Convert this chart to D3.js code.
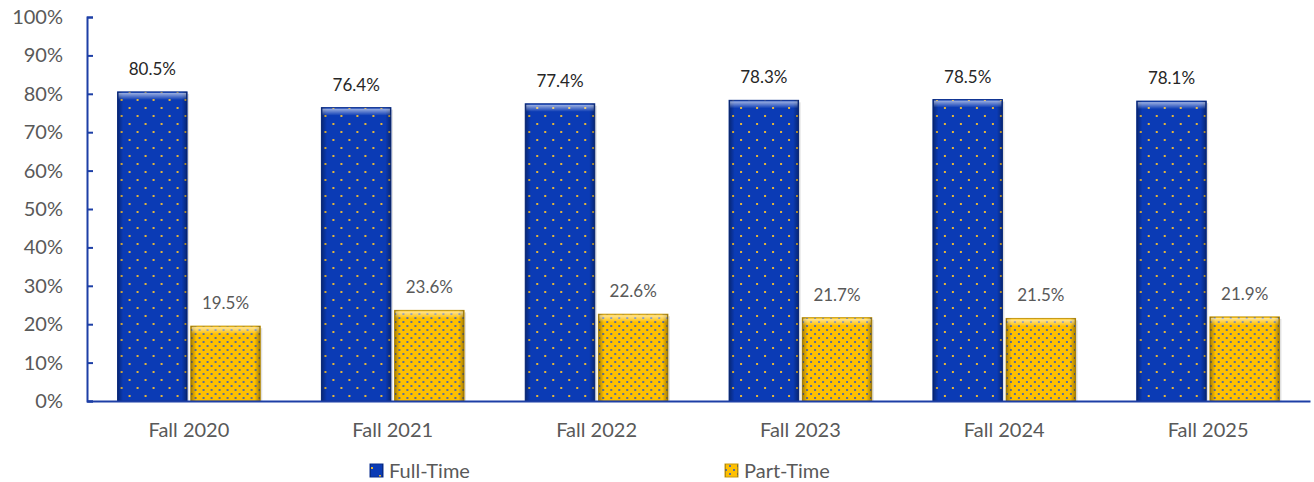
<!DOCTYPE html>
<html>
<head>
<meta charset="utf-8">
<script src="https://cdn.jsdelivr.net/npm/d3@7"></script>
<style>
  body { margin: 0; background: #fff; }
  svg { display: block; font-family: Lato, "Open Sans", sans-serif; }
  .axis text { fill: #595959; font-size: 20px; font-family: Lato, "Open Sans", sans-serif; }
  .legend text { fill: #595959; font-size: 20px; }
</style>
</head>
<body>
<div id="chart"></div>
<script>

var categories = ['Fall 2020', 'Fall 2021', 'Fall 2022', 'Fall 2023', 'Fall 2024', 'Fall 2025']
var seriesNames = ['Full-Time', 'Part-Time']
var fullTime = [80.5, 76.4, 77.4, 78.3, 78.5, 78.1]
var partTime = [19.5, 23.6, 22.6, 21.7, 21.5, 21.9]
var yTicks = [0, 10, 20, 30, 40, 50, 60, 70, 80, 90, 100]

var axisColor = '#1d3fa6'
var labelColors = ['#262626', '#595959']

var width = 1314, height = 482
var margin = {left: 87, right: 4, top: 17, bottom: 81}

var svg = d3.select('#chart').append('svg')
  .attr('width', width)
  .attr('height', height)

var defs = svg.append('defs')

// dotted fills
var pBlue = defs.append('pattern')
  .attr('id', 'dotsBlue')
  .attr('patternUnits', 'userSpaceOnUse')
  .attr('width', 16).attr('height', 16)
pBlue.append('rect').attr('width', 16).attr('height', 16).attr('fill', '#0b3bb5')
pBlue.append('rect').attr('x', 3).attr('y', 3).attr('width', 2).attr('height', 2).attr('fill', '#e3b43a')
pBlue.append('rect').attr('x', 11).attr('y', 11).attr('width', 2).attr('height', 2).attr('fill', '#e3b43a')

var pYellow = defs.append('pattern')
  .attr('id', 'dotsYellow')
  .attr('patternUnits', 'userSpaceOnUse')
  .attr('width', 8).attr('height', 8)
pYellow.append('rect').attr('width', 8).attr('height', 8).attr('fill', '#ffc000')
pYellow.append('rect').attr('x', 1).attr('y', 1).attr('width', 2).attr('height', 2).attr('fill', '#5b6f98')
pYellow.append('rect').attr('x', 5).attr('y', 5).attr('width', 2).attr('height', 2).attr('fill', '#5b6f98')

// bevel overlays
var sideGrad = defs.append('linearGradient').attr('id', 'sideShade')
sideGrad.append('stop').attr('offset', '0%').attr('stop-color', '#000').attr('stop-opacity', 0.35)
sideGrad.append('stop').attr('offset', '8%').attr('stop-color', '#000').attr('stop-opacity', 0)
sideGrad.append('stop').attr('offset', '92%').attr('stop-color', '#000').attr('stop-opacity', 0)
sideGrad.append('stop').attr('offset', '100%').attr('stop-color', '#000').attr('stop-opacity', 0.35)

var topGrad = defs.append('linearGradient').attr('id', 'topShine')
  .attr('x1', 0).attr('y1', 0).attr('x2', 0).attr('y2', 1)
topGrad.append('stop').attr('offset', '0%').attr('stop-color', '#fff').attr('stop-opacity', 0.6)
topGrad.append('stop').attr('offset', '100%').attr('stop-color', '#fff').attr('stop-opacity', 0)

var fills = ['url(#dotsBlue)', 'url(#dotsYellow)']
var edgeColors = ['#0a2f8f', '#c79a10']

var xScale = d3.scaleBand()
  .domain(categories)
  .range([margin.left, width - margin.right])
  .paddingInner(0.3)
  .paddingOuter(0.15)

var x1 = d3.scaleBand()
  .domain(seriesNames)
  .range([0, xScale.bandwidth()])
  .paddingInner(0.05)

var yScale = d3.scaleLinear()
  .domain([0, 100])
  .range([height - margin.bottom, margin.top])

var data = categories.map(function(c, i) {
  return {cat: c, values: [fullTime[i], partTime[i]]}
})

// y axis
var yAxis = d3.axisLeft(yScale)
  .tickValues(yTicks)
  .tickFormat(function(d) { return d + '%' })
  .tickSize(-6)
  .tickPadding(24)

var gy = svg.append('g')
  .attr('class', 'y axis')
  .attr('transform', 'translate(' + margin.left + ',0)')
  .call(yAxis)
  .attr('font-family', null)
  .attr('font-size', null)
gy.select('.domain').attr('stroke', axisColor).attr('stroke-width', 2)
gy.selectAll('.tick line').attr('stroke', axisColor).attr('stroke-width', 2)

// bars
var groups = svg.selectAll('.group')
  .data(data)
  .enter().append('g')
  .attr('class', 'group')
  .attr('transform', function(d) { return 'translate(' + xScale(d.cat) + ',0)' })

seriesNames.forEach(function(s, si) {
  var bx = x1(s), bw = x1.bandwidth()

  // soft shadow
  groups.append('rect')
    .attr('x', bx + 2)
    .attr('y', function(d) { return yScale(d.values[si]) + 2 })
    .attr('width', bw)
    .attr('height', function(d) { return yScale(0) - yScale(d.values[si]) - 2 })
    .attr('fill', '#000')
    .attr('opacity', 0.12)

  groups.append('rect')
    .attr('class', 'bar')
    .attr('x', bx)
    .attr('y', function(d) { return yScale(d.values[si]) })
    .attr('width', bw)
    .attr('height', function(d) { return yScale(0) - yScale(d.values[si]) })
    .attr('fill', fills[si])
    .attr('stroke', edgeColors[si])
    .attr('stroke-width', 1)

  groups.append('rect')
    .attr('x', bx)
    .attr('y', function(d) { return yScale(d.values[si]) })
    .attr('width', bw)
    .attr('height', function(d) { return yScale(0) - yScale(d.values[si]) })
    .attr('fill', 'url(#sideShade)')

  groups.append('rect')
    .attr('x', bx + 1)
    .attr('y', function(d) { return yScale(d.values[si]) + 1 })
    .attr('width', bw - 2)
    .attr('height', 7)
    .attr('fill', 'url(#topShine)')

  groups.append('text')
    .attr('x', bx + bw / 2)
    .attr('y', function(d) { return yScale(d.values[si]) - 17 })
    .attr('text-anchor', 'middle')
    .style('font-size', '17px')
    .style('fill', labelColors[si])
    .text(function(d) { return d.values[si].toFixed(1) + '%' })
})

// x axis
var xAxis = d3.axisBottom(xScale)
  .tickSize(0)
  .tickPadding(22)

var gx = svg.append('g')
  .attr('class', 'x axis')
  .attr('transform', 'translate(0,' + yScale(0) + ')')
  .call(xAxis)
  .attr('font-family', null)
  .attr('font-size', null)
gx.select('.domain').attr('stroke', axisColor).attr('stroke-width', 2)

// legend
var legendX = [370, 725]
var legend = svg.append('g').attr('class', 'legend')
seriesNames.forEach(function(s, si) {
  legend.append('rect')
    .attr('x', legendX[si])
    .attr('y', 464)
    .attr('width', 13)
    .attr('height', 13)
    .attr('fill', fills[si])
    .attr('stroke', edgeColors[si])
  legend.append('rect')
    .attr('x', legendX[si])
    .attr('y', 464)
    .attr('width', 13)
    .attr('height', 13)
    .attr('fill', 'url(#sideShade)')
  legend.append('text')
    .attr('x', legendX[si] + 19)
    .attr('y', 471)
    .attr('dy', '0.35em')
    .text(s)
})

</script>
</body>
</html>
